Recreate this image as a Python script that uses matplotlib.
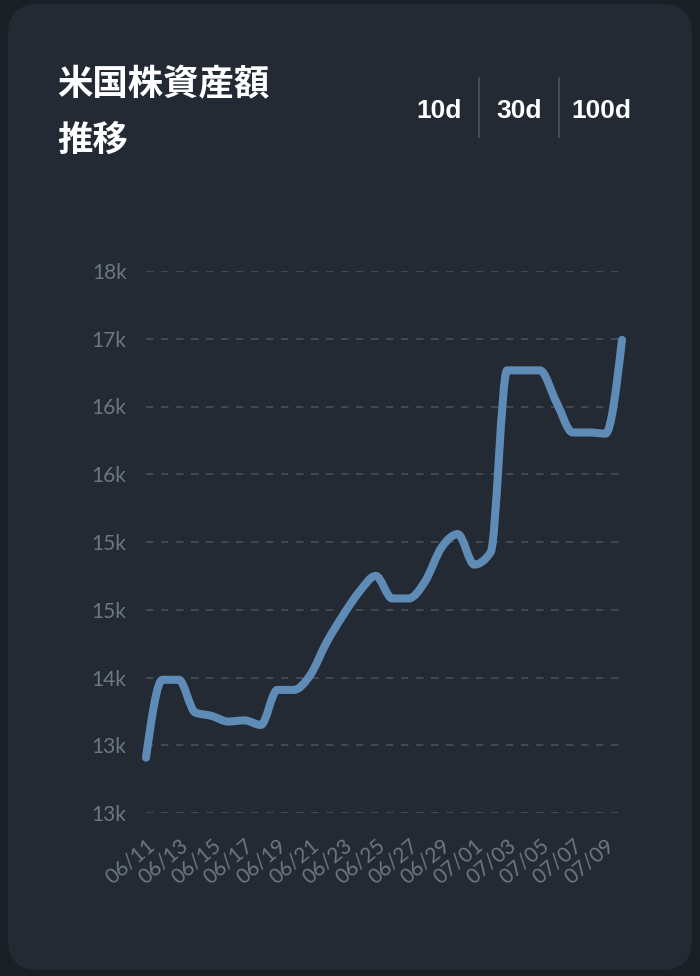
import numpy as np
import matplotlib
matplotlib.use('Agg')
import matplotlib.pyplot as plt
from matplotlib.patches import FancyBboxPatch, PathPatch
from matplotlib.path import Path
from matplotlib.lines import Line2D

# data
dates = ['06/11', '06/12', '06/13', '06/14', '06/15', '06/16', '06/17', '06/18', '06/19', '06/20',
         '06/21', '06/22', '06/23', '06/24', '06/25', '06/26', '06/27', '06/28', '06/29', '06/30',
         '07/01', '07/02', '07/03', '07/04', '07/05', '07/06', '07/07', '07/08', '07/09', '07/10']
values = [13290, 13980, 13980, 13690, 13660, 13610, 13620, 13580, 13890, 13890,
          14020, 14310, 14550, 14760, 14900, 14700, 14700, 14850, 15150, 15270,
          15000, 15110, 16720, 16720, 16720, 16440, 16170, 16170, 16160, 16990]
y_ticks = [12800, 13400, 14000, 14600, 15200, 15800, 16400, 17000, 17600]
y_labels = ['13k', '13k', '14k', '15k', '15k', '16k', '16k', '17k', '18k']
title_lines = ['米国株資産額', '推移']
ranges = ['10d', '30d', '100d']

BG = '#1a1e25'
CARD = '#232a34'
LINE = '#5f8cb6'
GRID = '#48505b'
TICK = '#6c7784'

W, H = 700, 976
fig = plt.figure(figsize=(W / 100, H / 100), dpi=100)
fig.patch.set_facecolor(BG)

# card background
card = FancyBboxPatch((8 / W, 6 / H), 684 / W, 966 / H,
                      boxstyle='round,pad=0,rounding_size=0.043',
                      transform=fig.transFigure, facecolor=CARD, edgecolor='none',
                      mutation_aspect=W / H, zorder=-10)
fig.patches.append(card)

# title
cjk = ['Noto Sans CJK JP', 'DejaVu Sans']
fig.text(57 / W, 1 - 85 / H, title_lines[0], family=cjk, fontsize=25.5, weight='bold',
         color='white', ha='left', va='center')
fig.text(57 / W, 1 - 140 / H, title_lines[1], family=cjk, fontsize=25.5, weight='bold',
         color='white', ha='left', va='center')

# range buttons
btn_x = [439, 519, 601]
for lab, bx in zip(ranges, btn_x):
    fig.text(bx / W, 1 - 111 / H, lab, family=['Liberation Sans', 'DejaVu Sans'], fontsize=19,
             weight='bold', color='white', ha='center', va='center')
for sx in [479, 559]:
    fig.add_artist(Line2D([sx / W, sx / W], [1 - 78 / H, 1 - 137 / H],
                          transform=fig.transFigure, color=GRID, lw=1.3))

# chart
ax = fig.add_axes([146 / W, 163 / H, 476 / W, 542 / H])
ax.set_facecolor('none')
x = np.arange(len(values), dtype=float)
y = np.array(values, dtype=float)

# monotone-x tangents (min of neighbouring slopes) -> bezier through the data points
h = np.diff(x)
s = np.diff(y) / h
t = np.zeros_like(y)
for k in range(1, len(y) - 1):
    p = (s[k - 1] * h[k] + s[k] * h[k - 1]) / (h[k - 1] + h[k])
    t[k] = (np.sign(s[k - 1]) + np.sign(s[k])) * min(abs(s[k - 1]), abs(s[k]), 0.5 * abs(p))
t[0] = (3 * s[0] - t[1]) / 2
t[-1] = (3 * s[-1] - t[-2]) / 2

verts = [(x[0], y[0])]
codes = [Path.MOVETO]
for k in range(len(s)):
    dx = h[k] / 3
    verts += [(x[k] + dx, y[k] + t[k] * dx),
              (x[k + 1] - dx, y[k + 1] - t[k + 1] * dx),
              (x[k + 1], y[k + 1])]
    codes += [Path.CURVE4] * 3
ax.add_patch(PathPatch(Path(verts, codes), fill=False, edgecolor=LINE, lw=5.8,
                       capstyle='round', joinstyle='round', zorder=3, clip_on=False))

ax.set_xlim(0, len(values) - 1)
ax.set_ylim(y_ticks[0], y_ticks[-1])
ax.set_yticks(y_ticks)
ax.set_yticklabels(y_labels)
ax.set_xticks(x[::2])
ax.set_xticklabels(dates[::2], rotation=40, ha='right', va='top', rotation_mode='anchor')
ax.yaxis.grid(True, color=GRID, lw=1.2, linestyle=(0, (4.5, 4.5)))
ax.xaxis.grid(False)
ax.set_axisbelow(True)
for sp in ax.spines.values():
    sp.set_visible(False)
ax.tick_params(axis='both', length=0, colors=TICK, labelsize=15)
ax.tick_params(axis='y', pad=14)
ax.tick_params(axis='x', pad=16)
for lab in ax.get_xticklabels() + ax.get_yticklabels():
    lab.set_family(['Lato', 'DejaVu Sans'])

fig.savefig('out.png', dpi=100, facecolor=BG)
